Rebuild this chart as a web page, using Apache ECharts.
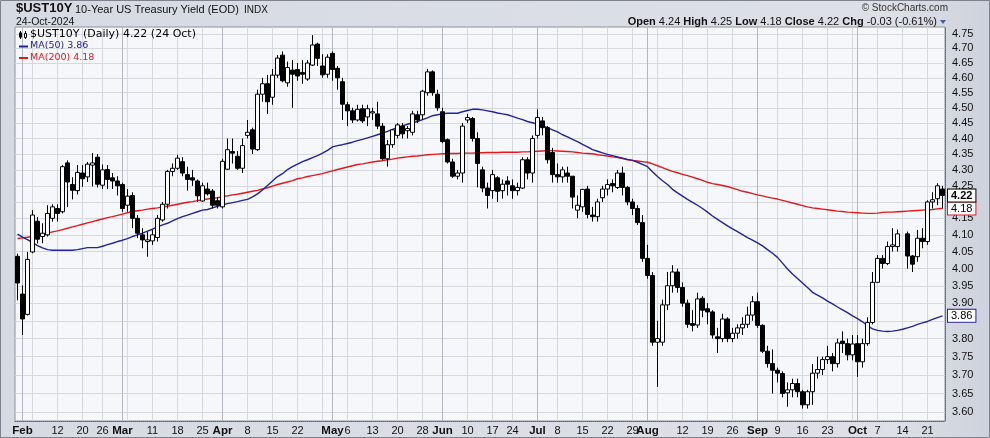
<!DOCTYPE html>
<html><head><meta charset="utf-8">
<script src="https://cdn.jsdelivr.net/npm/echarts@6/dist/echarts.min.js"></script>
<style>html,body{margin:0;padding:0;background:#d9dde5;}#c{width:990px;height:438px;}</style>
</head><body><div id="c"></div>
<script>
// ---------- DATA ----------
const dates = ['01-31',
'02-01','02-02','02-05','02-06','02-07','02-08','02-09','02-12','02-13','02-14','02-15','02-16','02-20','02-21','02-22','02-23','02-26','02-27','02-28','02-29',
'03-01','03-04','03-05','03-06','03-07','03-08','03-11','03-12','03-13','03-14','03-15','03-18','03-19','03-20','03-21','03-22','03-25','03-26','03-27','03-28',
'04-01','04-02','04-03','04-04','04-05','04-08','04-09','04-10','04-11','04-12','04-15','04-16','04-17','04-18','04-19','04-22','04-23','04-24','04-25','04-26','04-29','04-30',
'05-01','05-02','05-03','05-06','05-07','05-08','05-09','05-10','05-13','05-14','05-15','05-16','05-17','05-20','05-21','05-22','05-23','05-24','05-28','05-29','05-30','05-31',
'06-03','06-04','06-05','06-06','06-07','06-10','06-11','06-12','06-13','06-14','06-17','06-18','06-20','06-21','06-24','06-25','06-26','06-27','06-28',
'07-01','07-02','07-03','07-05','07-08','07-09','07-10','07-11','07-12','07-15','07-16','07-17','07-18','07-19','07-22','07-23','07-24','07-25','07-26','07-29','07-30','07-31',
'08-01','08-02','08-05','08-06','08-07','08-08','08-09','08-12','08-13','08-14','08-15','08-16','08-19','08-20','08-21','08-22','08-23','08-26','08-27','08-28','08-29','08-30',
'09-03','09-04','09-05','09-06','09-09','09-10','09-11','09-12','09-13','09-16','09-17','09-18','09-19','09-20','09-23','09-24','09-25','09-26','09-27','09-30',
'10-01','10-02','10-03','10-04','10-07','10-08','10-09','10-10','10-11','10-14','10-15','10-16','10-17','10-18','10-21','10-22','10-23','10-24'];

const open = [4.036,3.926,3.868,4.049,4.141,4.095,4.100,4.150,4.180,4.170,
4.322,4.254,4.235,4.290,4.278,4.315,4.340,4.252,4.301,4.275,
4.265,4.254,4.190,4.220,4.150,4.100,4.080,4.082,4.092,4.145,
4.193,4.295,4.305,4.326,4.285,4.275,4.265,4.203,4.240,4.234,
4.204,4.185,4.302,4.358,4.343,4.305,4.410,4.428,4.364,4.545,
4.580,4.535,4.609,4.677,4.583,4.626,4.628,4.618,4.596,4.643,
4.715,4.640,4.612,4.683,4.632,4.587,4.510,4.490,4.460,4.497,
4.470,4.483,4.480,4.440,4.335,4.380,4.410,4.440,4.425,4.420,
4.477,4.477,4.550,4.620,4.545,4.487,4.396,4.325,4.280,4.290,
4.460,4.465,4.400,4.300,4.243,4.235,4.275,4.235,4.265,4.250,
4.235,4.243,4.332,4.290,4.410,4.457,4.435,4.355,4.285,4.278,
4.290,4.280,4.175,4.185,4.240,4.160,4.155,4.213,4.240,4.257,
4.245,4.290,4.245,4.200,4.180,4.137,4.030,3.980,3.790,3.790,
3.895,3.950,3.990,3.945,3.900,3.842,3.838,3.914,3.884,3.875,
3.805,3.800,3.855,3.800,3.815,3.830,3.840,3.866,3.904,3.837,
3.765,3.731,3.713,3.704,3.652,3.660,3.677,3.655,3.620,3.655,
3.705,3.715,3.742,3.750,3.731,3.793,3.786,3.755,3.786,3.736,
3.786,3.845,3.960,4.030,4.015,4.065,4.065,null,4.103,4.037,
4.035,4.090,4.080,4.200,4.210,4.240];

const high = [4.044,3.951,4.049,4.175,4.154,4.135,4.190,4.193,4.193,4.315,
4.330,4.277,4.315,4.315,4.325,4.353,4.350,4.317,4.315,4.290,
4.280,4.260,4.240,4.230,4.160,4.120,4.110,4.115,4.160,4.200,
4.300,4.320,4.348,4.340,4.310,4.300,4.270,4.260,4.260,4.240,
4.215,4.335,4.400,4.400,4.360,4.400,4.460,4.435,4.560,4.600,
4.610,4.630,4.677,4.690,4.655,4.660,4.650,4.660,4.660,4.746,
4.720,4.680,4.680,4.690,4.640,4.600,4.520,4.500,4.510,4.510,
4.510,4.500,4.520,4.450,4.395,4.430,4.450,4.450,4.440,4.490,
4.490,4.560,4.630,4.625,4.560,4.500,4.400,4.335,4.300,4.450,
4.480,4.470,4.420,4.310,4.260,4.300,4.280,4.270,4.280,4.270,
4.260,4.340,4.340,4.410,4.495,4.470,4.440,4.370,4.320,4.310,
4.310,4.280,4.220,4.240,4.250,4.185,4.210,4.250,4.270,4.270,
4.300,4.310,4.250,4.210,4.190,4.160,4.070,3.990,3.850,3.910,
3.990,4.010,4.000,3.960,3.910,3.880,3.930,3.920,3.900,3.880,
3.830,3.870,3.860,3.830,3.840,3.860,3.890,3.920,3.930,3.840,
3.780,3.770,3.720,3.710,3.680,3.690,3.690,3.660,3.660,3.730,
3.750,3.750,3.780,3.760,3.800,3.820,3.800,3.810,3.810,3.800,
3.860,3.990,4.040,4.040,4.080,4.120,4.116,null,4.110,4.040,
4.115,4.120,4.205,4.230,4.258,4.250];

const low = [3.908,3.810,3.865,4.045,4.074,4.075,4.095,4.140,4.140,4.165,
4.185,4.208,4.223,4.247,4.262,4.248,4.245,4.240,4.240,4.240,
4.220,4.170,4.170,4.120,4.090,4.060,4.035,4.070,4.080,4.140,
4.180,4.280,4.300,4.280,4.235,4.250,4.200,4.200,4.220,4.180,
4.180,4.180,4.300,4.320,4.300,4.290,4.400,4.350,4.360,4.520,
4.480,4.510,4.600,4.585,4.570,4.500,4.590,4.580,4.590,4.640,
4.640,4.600,4.600,4.590,4.560,4.460,4.440,4.450,4.455,4.450,
4.440,4.460,4.430,4.330,4.310,4.370,4.400,4.400,4.400,4.410,
4.450,4.460,4.540,4.540,4.490,4.385,4.320,4.275,4.270,4.260,
4.450,4.390,4.245,4.230,4.180,4.210,4.200,4.210,4.220,4.210,
4.220,4.240,4.270,4.260,4.400,4.410,4.320,4.260,4.260,4.260,
4.260,4.180,4.150,4.170,4.150,4.140,4.140,4.200,4.220,4.230,
4.240,4.220,4.190,4.160,4.130,4.020,3.970,3.780,3.668,3.780,
3.880,3.930,3.930,3.890,3.830,3.820,3.830,3.860,3.840,3.800,
3.760,3.790,3.790,3.790,3.800,3.810,3.830,3.850,3.830,3.760,
3.720,3.650,3.680,3.640,3.615,3.640,3.640,3.610,3.610,3.620,
3.690,3.700,3.730,3.710,3.720,3.760,3.740,3.740,3.695,3.720,
3.780,3.840,3.960,4.000,4.010,4.050,4.050,null,4.000,3.990,
4.020,4.060,4.070,4.180,4.190,4.180];

const close = [3.958,3.855,4.027,4.160,4.087,4.105,4.165,4.185,4.165,4.310,
4.262,4.236,4.292,4.272,4.318,4.322,4.255,4.300,4.270,4.265,
4.250,4.180,4.218,4.150,4.105,4.085,4.085,4.100,4.150,4.193,
4.295,4.305,4.337,4.290,4.270,4.268,4.219,4.250,4.225,4.190,
4.190,4.327,4.364,4.353,4.305,4.377,4.420,4.366,4.545,4.580,
4.520,4.609,4.667,4.590,4.635,4.612,4.606,4.612,4.650,4.712,
4.666,4.610,4.670,4.628,4.600,4.512,4.490,4.460,4.495,4.457,
4.497,4.487,4.440,4.335,4.380,4.428,4.444,4.415,4.432,4.480,
4.460,4.555,4.620,4.550,4.500,4.390,4.325,4.280,4.290,4.440,
4.468,4.400,4.320,4.243,4.220,4.285,4.233,4.255,4.255,4.235,
4.245,4.332,4.290,4.400,4.468,4.435,4.332,4.285,4.278,4.300,
4.280,4.215,4.190,4.239,4.162,4.155,4.200,4.240,4.254,4.250,
4.290,4.245,4.200,4.180,4.137,4.030,3.980,3.790,3.800,3.895,
3.950,3.990,3.945,3.900,3.840,3.837,3.912,3.880,3.875,3.810,
3.800,3.855,3.800,3.815,3.830,3.840,3.866,3.904,3.837,3.765,
3.731,3.713,3.705,3.650,3.660,3.677,3.655,3.620,3.655,3.705,
3.715,3.742,3.750,3.731,3.788,3.786,3.755,3.785,3.736,3.786,
3.845,3.960,4.030,4.015,4.065,4.070,4.103,null,4.037,4.013,
4.090,4.080,4.200,4.207,4.250,4.220];

const ma50 = [4.102,4.093,4.086,4.077,4.068,4.061,4.056,4.054,4.054,4.054,
4.054,4.054,4.056,4.059,4.062,4.062,4.062,4.066,4.071,4.075,
4.080,4.084,4.089,4.095,4.100,4.105,4.111,4.117,4.124,4.130,
4.135,4.142,4.149,4.155,4.160,4.165,4.170,4.175,4.177,4.182,
4.187,4.191,4.195,4.198,4.201,4.205,4.208,4.216,4.225,4.237,
4.251,4.265,4.279,4.288,4.301,4.310,4.318,4.326,4.332,4.339,
4.345,4.353,4.362,4.373,4.377,4.380,4.384,4.388,4.393,4.397,
4.402,4.407,4.412,4.417,4.423,4.429,4.436,4.441,4.446,4.451,
4.455,4.461,4.467,4.474,4.477,4.480,4.482,4.482,4.482,4.487,
4.491,4.495,4.495,4.493,4.490,4.487,4.483,4.480,4.477,4.472,
4.466,4.461,4.455,4.451,4.446,4.441,4.435,4.428,4.421,4.412,
4.405,4.397,4.390,4.381,4.373,4.364,4.359,4.354,4.349,4.345,
4.341,4.337,4.333,4.330,4.324,4.317,4.310,4.294,4.279,4.266,
4.254,4.239,4.228,4.218,4.208,4.199,4.190,4.180,4.169,4.157,
4.147,4.137,4.127,4.118,4.110,4.101,4.092,4.084,4.076,4.067,
4.056,4.045,4.033,4.016,3.999,3.984,3.971,3.958,3.945,3.931,
3.923,3.915,3.906,3.898,3.889,3.881,3.873,3.864,3.856,3.847,
3.836,3.827,3.823,3.821,3.820,3.821,3.823,3.826,3.830,3.834,
3.840,3.844,3.848,3.854,3.859,3.864];

const ma200 = [4.089,4.091,4.093,4.096,4.099,4.102,4.105,4.109,4.112,4.116,
4.120,4.124,4.128,4.132,4.136,4.140,4.144,4.148,4.152,4.155,
4.159,4.163,4.167,4.171,4.173,4.175,4.178,4.180,4.182,4.185,
4.187,4.190,4.193,4.196,4.199,4.201,4.204,4.207,4.209,4.211,
4.213,4.216,4.219,4.222,4.224,4.227,4.230,4.233,4.236,4.240,
4.244,4.249,4.254,4.258,4.262,4.266,4.272,4.275,4.279,4.282,
4.285,4.288,4.293,4.297,4.301,4.305,4.309,4.313,4.317,4.319,
4.322,4.325,4.327,4.329,4.332,4.334,4.337,4.339,4.341,4.343,
4.344,4.346,4.348,4.349,4.350,4.351,4.351,4.352,4.352,4.353,
4.353,4.353,4.354,4.354,4.355,4.355,4.355,4.356,4.356,4.356,
4.356,4.357,4.357,4.358,4.359,4.360,4.361,4.361,4.360,4.359,
4.358,4.357,4.355,4.353,4.352,4.351,4.348,4.346,4.344,4.341,
4.339,4.336,4.332,4.330,4.328,4.326,4.324,4.319,4.313,4.307,
4.301,4.295,4.291,4.286,4.282,4.277,4.272,4.267,4.261,4.257,
4.254,4.251,4.248,4.243,4.238,4.233,4.230,4.226,4.222,4.219,
4.215,4.212,4.209,4.205,4.201,4.197,4.193,4.189,4.185,4.182,
4.180,4.178,4.176,4.174,4.172,4.171,4.169,4.168,4.167,4.166,
4.165,4.165,4.166,4.168,4.169,4.169,4.170,4.171,4.172,4.173,
4.174,4.175,4.176,4.177,4.179,4.180];

const xTickDates  = ['02-01','02-12','02-20','02-26','03-01','03-11','03-18','03-25','04-01','04-08','04-15','04-22','05-01','05-06','05-13','05-20','05-28','06-03','06-10','06-17','06-24','07-01','07-08','07-15','07-22','07-29','08-01','08-12','08-19','08-26','09-03','09-09','09-16','09-23','10-01','10-07','10-14','10-21'];
const xTickLabels = ['Feb','12','20','26','Mar','11','18','25','Apr','8','15','22','May','6','13','20','28','Jun','10','17','24','Jul','8','15','22','29','Aug','12','19','26','Sep','9','16','23','Oct','7','14','21'];
const monthGridDates = ['02-01','03-01','04-01','05-01','06-03','07-01','08-01','09-03','10-01'];
const weekGridDates = ['02-05','02-12','02-20','02-26','03-04','03-11','03-18','03-25','04-08','04-15','04-22','04-29','05-06','05-13','05-20','05-28','06-10','06-17','06-24','07-08','07-15','07-22','07-29','08-05','08-12','08-19','08-26','09-09','09-16','09-23','09-30','10-07','10-14','10-21'];
const yTicks = [3.60,3.65,3.70,3.75,3.80,3.85,3.90,3.95,4.00,4.05,4.10,4.15,4.20,4.25,4.30,4.35,4.40,4.45,4.50,4.55,4.60,4.65,4.70,4.75];
const yTickLabels = [3.60,3.65,3.70,3.75,3.80,3.90,3.95,4.00,4.05,4.10,4.15,4.25,4.30,4.35,4.40,4.45,4.50,4.55,4.60,4.65,4.70,4.75];
const yRange = [3.5774, 4.7744];

// ---------- BUILD ----------
const LN = Math.log;
const FONT = 'Liberation Sans, Arial, sans-serif';
const idxOf = d => dates.indexOf(d);
const labelMap = new Map(xTickDates.map((d, k) => [idxOf(d), xTickLabels[k]]));
const monthLabels = new Set(['Feb','Mar','Apr','May','Jun','Jul','Aug','Sep','Oct']);
const monthSet = new Set(monthGridDates.map(idxOf));
const weekSet = new Set(weekGridDates.map(idxOf));
const candle = dates.map((d, i) => open[i] == null ? ['-','-','-','-'] :
  [LN(open[i]), LN(close[i]), LN(low[i]), LN(high[i])]);
const last = close.length - 1;
const lastClose = close[last], lastMa50 = ma50[last], lastMa200 = ma200[last];

function markerLabel(val, border, bold) {
  return {
    silent: true, symbol: ['none', 'none'], animation: false, precision: 4,
    lineStyle: { color: 'rgba(0,0,0,0)', width: 0.01, type: 'solid' },
    data: [{ yAxis: LN(val) }],
    label: {
      show: true, position: 'end', distance: 3, formatter: val.toFixed(2),
      fontFamily: FONT, fontSize: 11, fontWeight: bold ? 'bold' : 'normal',
      color: '#000', backgroundColor: '#fff', opacity: 1,
      borderColor: border, borderWidth: 1, padding: [1, 3, 0, 3]
    },
    emphasis: { disabled: true }
  };
}

const chart = echarts.init(document.getElementById('c'));
const option = {
  animation: false,
  backgroundColor: { type: 'linear', x: 0, y: 0, x2: 1, y2: 0,
    colorStops: [{ offset: 0, color: '#d6dae3' }, { offset: 0.9, color: '#dde0e7' }, { offset: 1, color: '#cdd2dc' }] },
  grid: { left: 15, top: 27, width: 930, height: 394, show: true,
    backgroundColor: '#f5f7fb', borderColor: '#8d929c', borderWidth: 1 },
  xAxis: [{
    type: 'category', data: dates, boundaryGap: true,
    axisLine: { show: true, lineStyle: { color: '#666', type: 'dotted' } },
    axisTick: { show: false },
    axisLabel: {
      interval: (i) => labelMap.has(i),
      formatter: (v, i) => { const t = labelMap.get(i) || ''; return monthLabels.has(t) ? '{m|' + t + '}' : t; },
      fontFamily: FONT, fontSize: 11, color: '#111', margin: 4,
      rich: { m: { fontFamily: FONT, fontSize: 11.5, fontWeight: 'bold', color: '#111' } }
    },
    splitLine: { show: true, interval: (i) => weekSet.has(i), alignWithLabel: true,
      lineStyle: { color: '#d5d8df', width: 1 } }
  }, {
    type: 'category', data: dates, boundaryGap: true, position: 'bottom',
    axisLine: { show: false }, axisTick: { show: false }, axisLabel: { show: false },
    splitLine: { show: true, interval: (i) => monthSet.has(i), alignWithLabel: true,
      lineStyle: { color: '#b3b7c1', width: 1 } }
  }],
  yAxis: {
    type: 'value', position: 'right', min: LN(yRange[0]), max: LN(yRange[1]),
    axisLine: { show: true, lineStyle: { color: '#666', type: 'dotted' } },
    axisTick: { show: false, customValues: yTicks.map(LN) },
    axisLabel: { customValues: yTickLabels.map(LN), formatter: v => Math.exp(v).toFixed(2),
      fontFamily: FONT, fontSize: 11, color: '#111', margin: 7 },
    splitLine: { show: true, lineStyle: { color: '#d5d8df', width: 1 } }
  },
  series: [
    { type: 'line', name: 'MA(200)', data: ma200.map(LN), symbol: 'none', silent: true,
      lineStyle: { color: '#e3191c', width: 1.4 }, z: 2, markLine: markerLabel(lastMa200, '#e3191c', false) },
    { type: 'line', name: 'MA(50)', data: ma50.map(LN), symbol: 'none', silent: true,
      lineStyle: { color: '#23239c', width: 1.4 }, z: 2, markLine: markerLabel(lastMa50, '#23239c', false) },
    { type: 'candlestick', name: '$UST10Y', data: candle, barWidth: 4, silent: true, z: 3,
      itemStyle: { color: '#ffffff', color0: '#000000', borderColor: '#000000', borderColor0: '#000000',
        borderColorDoji: '#000000', borderWidth: 1 },
      markLine: markerLabel(lastClose, '#000', true) }
  ],
  graphic: [
    { type: 'rect', z: 100, shape: { x: 0.5, y: 0.5, width: 989, height: 437 }, style: { fill: 'none', stroke: '#7d828c', lineWidth: 1 }, silent: true },
    { type: 'text', z: 100, left: 16, top: 2, style: { text: '$UST10Y', font: 'bold 13px ' + FONT, fill: '#111' } },
    { type: 'text', z: 100, left: 75, top: 4, style: { text: '10-Year US Treasury Yield (EOD)', font: '11px ' + FONT, fill: '#111' } },
    { type: 'text', z: 100, left: 244, top: 5, style: { text: 'INDX', font: '10px ' + FONT, fill: '#111' } },
    { type: 'text', z: 100, left: 16, top: 17, style: { text: '24-Oct-2024', font: '10.5px ' + FONT, fill: '#111' } },
    { type: 'text', z: 100, right: 42, top: 3, style: { text: '\u00a9 StockCharts.com', font: '10px ' + FONT, fill: '#333' } },
    { type: 'text', z: 100, right: 53, top: 16, style: {
        text: '{b|Open} ' + open[last].toFixed(2) + ' {b|High} ' + high[last].toFixed(2) + ' {b|Low} ' + low[last].toFixed(2) +
              ' {b|Close} ' + lastClose.toFixed(2) + ' {b|Chg} -0.03 (-0.61%)',
        fontFamily: FONT, fontSize: 11, fill: '#111',
        rich: { b: { fontFamily: FONT, fontSize: 11, fontWeight: 'bold', fill: '#111' } } } },
    { type: 'polygon', z: 100, shape: { points: [[940, 20], [946, 20], [943, 24]] }, style: { fill: '#3d5f9e' } },
    // legend
    { type: 'line', z: 100, shape: { x1: 20.5, y1: 31, x2: 20.5, y2: 39 }, style: { stroke: '#000', lineWidth: 1 } },
    { type: 'rect', z: 100, shape: { x: 19, y: 32.5, width: 3, height: 5 }, style: { fill: '#000' } },
    { type: 'line', z: 100, shape: { x1: 25.5, y1: 31, x2: 25.5, y2: 39 }, style: { stroke: '#000', lineWidth: 1 } },
    { type: 'rect', z: 100, shape: { x: 24.5, y: 33.5, width: 2, height: 4 }, style: { fill: '#fff', stroke: '#000', lineWidth: 1 } },
    { type: 'text', z: 100, left: 30, top: 29, style: { text: '$UST10Y (Daily) ' + lastClose.toFixed(2) + ' (24 Oct)', font: '11px DejaVu Sans', fill: '#000' } },
    { type: 'rect', z: 100, shape: { x: 19, y: 45.5, width: 9, height: 2 }, style: { fill: '#23239c' } },
    { type: 'text', z: 100, left: 30, top: 41, style: { text: 'MA(50) ' + lastMa50.toFixed(2), font: '9.5px DejaVu Sans', fill: '#23239c' } },
    { type: 'rect', z: 100, shape: { x: 19, y: 57, width: 9, height: 2 }, style: { fill: '#e3191c' } },
    { type: 'text', z: 100, left: 30, top: 52.5, style: { text: 'MA(200) ' + lastMa200.toFixed(2), font: '9.5px DejaVu Sans', fill: '#e3191c' } }
  ]
};
chart.setOption(option);
</script></body></html>
